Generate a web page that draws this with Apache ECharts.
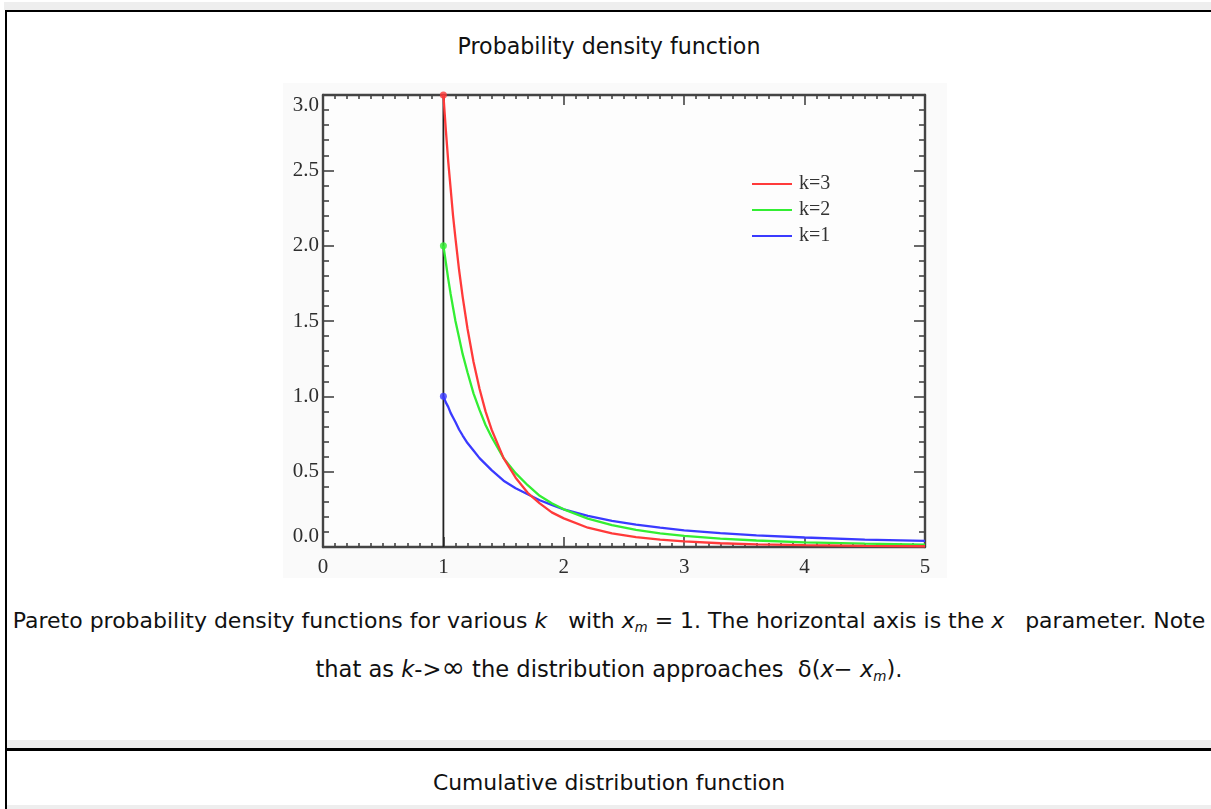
<!DOCTYPE html>
<html>
<head>
<meta charset="utf-8">
<script src="https://cdn.jsdelivr.net/npm/echarts@6/dist/echarts.min.js"></script>
<style>
  html, body { margin:0; padding:0; background:#fff; width:1211px; height:809px; overflow:hidden; }
  .abs { position:absolute; }
  .gray { background:#eeeeee; }
  .blk { background:#000; }
  .line { position:absolute; left:7px; width:1204px; text-align:center; white-space:nowrap;
          font-family:"DejaVu Sans", "Noto Sans", sans-serif; font-size:18px; color:#111; line-height:24px; }
  .line span.t { display:inline-block; }
  sub { font-size:0.6em; vertical-align:-0.3em; line-height:0; }
  i { font-style:italic; }
  .inf { font-size:1.25em; line-height:0; }
  #chart { position:absolute; left:283px; top:83px; width:664px; height:495px; background:#fafafa; }
</style>
</head>
<body>
<div class="abs gray" style="left:4px;top:2px;width:1207px;height:8px;"></div>
<div class="abs blk" style="left:5px;top:10px;width:1206px;height:2px;"></div>
<div class="abs blk" style="left:5px;top:10px;width:2px;height:799px;"></div>

<div class="line" style="top:34px;"><span class="t" data-w="303">Probability density function</span></div>
<div id="chart"></div>
<div class="line" style="top:609px;"><span class="t" data-w="1193">Pareto probability density functions for various <i>k</i>&nbsp;&nbsp; with <i>x<sub>m</sub></i> = 1. The horizontal axis is the <i>x</i>&nbsp;&nbsp; parameter. Note</span></div>
<div class="line" style="top:657px;"><span class="t" data-w="587">that as <i>k</i>-&gt;<span class="inf">∞</span> the distribution approaches &nbsp;δ(<i>x</i>− <i>x<sub>m</sub></i>).</span></div>

<div class="abs gray" style="left:7px;top:740px;width:1204px;height:8px;"></div>
<div class="abs blk" style="left:7px;top:748px;width:1204px;height:3px;"></div>
<div class="line" style="top:771px;"><span class="t" data-w="352">Cumulative distribution function</span></div>
<div class="abs gray" style="left:7px;top:805px;width:1204px;height:4px;"></div>

<script>
// ---- data ----
const xValues  = [1, 1.02, 1.04, 1.06, 1.08, 1.1, 1.13, 1.16, 1.2, 1.25, 1.3, 1.35, 1.4, 1.5, 1.6, 1.7, 1.8, 1.9, 2.0, 2.2, 2.4, 2.6, 2.8, 3.0, 3.3, 3.6, 4.0, 4.5, 5.0];
const k3Values = [3.00, 2.77, 2.56, 2.38, 2.20, 2.05, 1.84, 1.66, 1.45, 1.23, 1.05, 0.90, 0.78, 0.59, 0.46, 0.36, 0.29, 0.23, 0.19, 0.128, 0.090, 0.066, 0.049, 0.037, 0.025, 0.018, 0.012, 0.007, 0.005];
const k2Values = [2.00, 1.89, 1.78, 1.68, 1.59, 1.50, 1.39, 1.28, 1.16, 1.02, 0.91, 0.81, 0.73, 0.59, 0.49, 0.41, 0.34, 0.29, 0.25, 0.188, 0.145, 0.114, 0.091, 0.074, 0.056, 0.043, 0.031, 0.022, 0.016];
const k1Values = [1.00, 0.96, 0.93, 0.89, 0.86, 0.83, 0.78, 0.74, 0.69, 0.64, 0.59, 0.55, 0.51, 0.44, 0.39, 0.35, 0.31, 0.28, 0.25, 0.207, 0.174, 0.148, 0.128, 0.111, 0.092, 0.077, 0.063, 0.049, 0.040];
const seriesNames = ['k=3', 'k=2', 'k=1'];
const seriesColors = ['#ff3a3a', '#33ee33', '#3a3aff'];
const startPoints = [[1, 3], [1, 2], [1, 1]];
const guideLine = [[1, 0], [1, 3]];
const xTicks = [0, 1, 2, 3, 4, 5];
const yTicks = [0.0, 0.5, 1.0, 1.5, 2.0, 2.5, 3.0];

// fit text widths by font size
document.querySelectorAll('span.t').forEach(function (s) {
  const target = +s.dataset.w;
  const w = s.getBoundingClientRect().width;
  s.style.fontSize = (18 * target / w).toFixed(2) + 'px';
});

const axisColor = '#444';
const labelColor = '#2e2e2e';
const serif = '"Liberation Serif", "DejaVu Serif", serif';
const pairs = vals => xValues.map((x, i) => [x, vals[i]]);

function xAxisCfg(pos, showLabel) {
  return {
    type: 'value', position: pos, min: xTicks[0], max: xTicks[xTicks.length - 1], interval: 1,
    axisLine: { show: true, onZero: false, lineStyle: { color: axisColor, width: 2.4 } },
    axisTick: { show: true, inside: true, length: 10, lineStyle: { color: axisColor, width: 1.6 } },
    minorTick: { show: true, splitNumber: 10, length: 4, lineStyle: { color: axisColor, width: 1.6 } },
    splitLine: { show: false },
    axisLabel: { show: showLabel, margin: 10, color: labelColor, fontFamily: serif, fontSize: 21 }
  };
}
function yAxisCfg(pos, showLabel) {
  return {
    type: 'value', position: pos, min: yTicks[0], max: yTicks[yTicks.length - 1], interval: 0.5,
    axisLine: { show: true, onZero: false, lineStyle: { color: axisColor, width: 2.4 } },
    axisTick: { show: true, inside: true, length: 11, lineStyle: { color: axisColor, width: 1.6 } },
    minorTick: { show: true, splitNumber: 5, length: 6, lineStyle: { color: axisColor, width: 1.6 } },
    splitLine: { show: false },
    axisLabel: { show: showLabel, margin: 4, color: labelColor, fontFamily: serif, fontSize: 21,
                 verticalAlignMaxLabel: 'top', verticalAlignMinLabel: 'bottom',
                 formatter: v => v.toFixed(1) }
  };
}

const chart = echarts.init(document.getElementById('chart'), null, { renderer: 'canvas' });
const curves = [k3Values, k2Values, k1Values].map((vals, i) => ({
  name: seriesNames[i], type: 'line', data: pairs(vals), xAxisIndex: 0, yAxisIndex: 0,
  smooth: false, showSymbol: false, symbol: 'none', z: 6 - i,
  lineStyle: { color: seriesColors[i], width: 2.3 }, itemStyle: { color: seriesColors[i] },
  silent: true
}));

chart.setOption({
  animation: false,
  backgroundColor: '#fafafa',
  grid: { left: 40, top: 12, width: 602, height: 453, show: true, backgroundColor: '#fdfdfd', borderWidth: 0 },
  xAxis: [xAxisCfg('bottom', true), xAxisCfg('top', false)],
  yAxis: [yAxisCfg('left', true), yAxisCfg('right', false)],
  legend: {
    data: seriesNames, orient: 'vertical', left: 464, top: 86, itemGap: 6,
    icon: 'rect', itemWidth: 40, itemHeight: 2,
    textStyle: { fontFamily: serif, fontSize: 20, color: '#333', lineHeight: 18, padding: [0, 0, 0, 2] },
    selectedMode: false
  },
  series: [
    { name: 'guide', type: 'line', data: guideLine, symbol: 'none', z: 1, silent: true,
      lineStyle: { color: '#222', width: 1.8 } },
    ...curves,
    { name: 'start', type: 'scatter', symbolSize: 7, z: 10, silent: true,
      data: startPoints.map((p, i) => ({ value: p, itemStyle: { color: seriesColors[i] } })) }
  ]
});
</script>
</body>
</html>
